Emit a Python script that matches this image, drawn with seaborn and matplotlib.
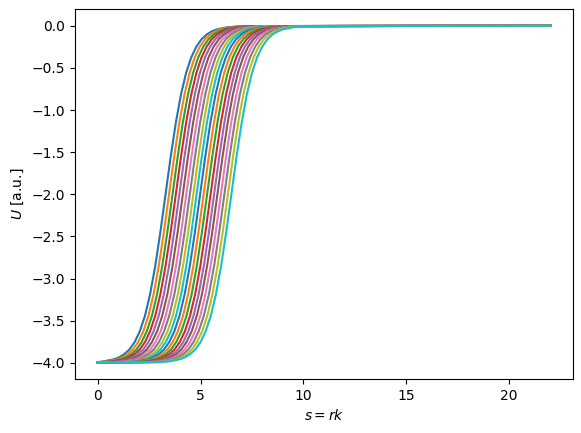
import matplotlib
matplotlib.use("Agg")
import matplotlib.pyplot as plt
import seaborn as sns
import pandas as pd

# midpoints (s where U = -2) of the 20 curves
midpoints = [3.30, 3.47, 3.64, 3.80, 3.97, 4.14, 4.31, 4.48, 4.65, 4.81,
             4.98, 5.15, 5.32, 5.49, 5.66, 5.82, 5.99, 6.16, 6.33, 6.50]

# shape of one curve around its midpoint (offset in s, U value)
profile_d = [-3.5, -3.0, -2.5, -2.25, -2.0, -1.75, -1.5, -1.25, -1.0, -0.75,
             -0.5, -0.25, 0.0, 0.25, 0.5, 0.75, 1.0, 1.25, 1.5, 1.75,
             2.0, 2.25, 2.5, 3.0, 3.5, 4.0]
profile_u = [-3.993, -3.983, -3.958, -3.934, -3.897, -3.841, -3.754, -3.626, -3.442, -3.185,
             -2.851, -2.446, -2.000, -1.554, -1.149, -0.815, -0.558, -0.374, -0.246, -0.159,
             -0.103, -0.066, -0.042, -0.017, -0.007, -0.003]

s_min, s_max = 0.0, 22.0

rows = []
for i, r in enumerate(midpoints):
    rows.append({"curve": i, "s": s_min, "U": profile_u[0]})
    for d, u in zip(profile_d, profile_u):
        if r + d > s_min:
            rows.append({"curve": i, "s": r + d, "U": u})
    rows.append({"curve": i, "s": s_max, "U": 0.0})
df = pd.DataFrame(rows)

colors = sns.color_palette("tab10", 10)
palette = [colors[i % 10] for i in range(len(midpoints))]

fig = plt.figure(figsize=(5.81, 4.33), dpi=100)
ax = fig.add_axes([75 / 581, (433 - 379) / 433, 498 / 581, 370 / 433])
sns.lineplot(data=df, x="s", y="U", hue="curve", palette=palette,
             legend=False, errorbar=None, linewidth=1.5, ax=ax)
ax.set_xlabel("$s = rk$")
ax.set_ylabel("$U$ [a.u.]")
fig.savefig("out.png", dpi=100)
